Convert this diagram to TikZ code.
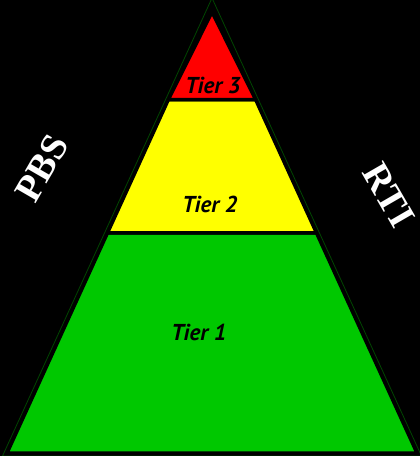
\documentclass[tikz,border=0pt]{standalone}
\usepackage{fontspec}
\setmainfont{Liberation Serif}
\newfontfamily\tierfont{PT Sans}
\usetikzlibrary{calc}
\definecolor{tiergreen}{RGB}{0,200,0}
\definecolor{tieryellow}{RGB}{255,255,0}
\definecolor{tierred}{RGB}{255,0,0}
\definecolor{edgegreen}{RGB}{0,70,0}
\tikzstyle{tier} = [draw=black, line width=3.5pt, line join=miter]
\tikzstyle{tierlabel} = [font=\tierfont\bfseries\itshape\fontsize{23}{23}\selectfont, text=black, anchor=base, inner sep=0pt]
\tikzstyle{sidelabel} = [font=\bfseries\fontsize{38}{38}\selectfont, text=white, inner sep=0pt]

\begin{document}
\begin{tikzpicture}[x=1pt, y=-1pt]
    \useasboundingbox (0,0) rectangle (420,456);
    \fill[black] (0,0) rectangle (420,456);
    % corners of the pyramid
    \coordinate (apex) at (212,4);
    \coordinate (bl) at (7,453);
    \coordinate (br) at (417,453);
    \coordinate (l1) at ($(apex)!0.2127!(bl)$);
    \coordinate (r1) at ($(apex)!0.2127!(br)$);
    \coordinate (l2) at ($(apex)!0.5100!(bl)$);
    \coordinate (r2) at ($(apex)!0.5100!(br)$);
    % the three tiers
    \filldraw [tier, fill=tiergreen] (l2) -- (r2) -- (br) -- (bl) -- cycle;
    \filldraw [tier, fill=tieryellow] (l1) -- (r1) -- (r2) -- (l2) -- cycle;
    \filldraw [tier, fill=tierred] (212,12) -- (r1) -- (l1) -- cycle;
    % thin outline round the pyramid
    \draw [edgegreen, line width=0.8pt] (212,-2) -- (421.5,456) -- (2.5,456) -- cycle;
    % labels
    \node (tier3) [tierlabel] at (213,93) {Tier 3};
    \node (tier2) [tierlabel] at (210,212) {Tier 2};
    \node (tier1) [tierlabel] at (199,340) {Tier 1};
    \node (pbs) [sidelabel, rotate=60] at (42,168) {PBS};
    \node (rti) [sidelabel, rotate=-60] at (389,195) {RTI};
\end{tikzpicture}
\end{document}
